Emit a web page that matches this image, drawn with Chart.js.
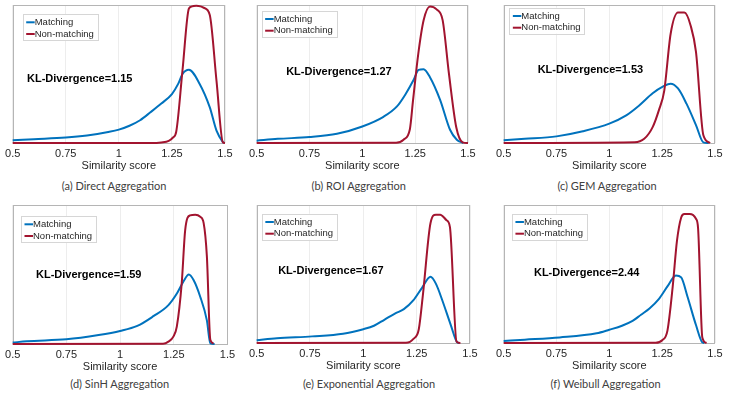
<!DOCTYPE html>
<html>
<head>
<meta charset="utf-8">
<script src="https://cdn.jsdelivr.net/npm/chart.js"></script>
<style>
  body { margin: 0; background: #fff; }
  #wrap { position: relative; width: 747px; height: 397px; overflow: hidden; }
  canvas { position: absolute; }
  .cap { position: absolute; font: 11px Lato, "Open Sans", sans-serif; color: #404040; white-space: nowrap; transform: translate(-50%, -50%); }
</style>
</head>
<body>
<div id="wrap"></div>
<script>
// values (x = similarity score, y = density, scaled so the plot top is 1)
var seriesNames = ['Matching', 'Non-matching'];
var xTicks = [0.5, 0.75, 1, 1.25, 1.5];
var captions = ['(a) Direct Aggregation', '(b) ROI Aggregation', '(c) GEM Aggregation',
                '(d) SinH Aggregation', '(e) Exponential Aggregation', '(f) Weibull Aggregation'];
var klValues = ['1.15', '1.27', '1.53', '1.59', '1.67', '2.44'];

var aMatching = [[0.5,0.02],[0.6,0.028],[0.75,0.04],[0.85,0.055],[0.95,0.08],[1.0,0.097],[1.05,0.125],[1.1,0.165],[1.15,0.224],[1.2,0.286],[1.25,0.355],[1.28,0.43],[1.3,0.5],[1.33,0.53],[1.38,0.43],[1.428,0.26],[1.46,0.09],[1.49,0.007],[1.495,0]];
var aNonMatching = [[0.5,0],[1.15,0],[1.2,0.004],[1.235,0.015],[1.255,0.04],[1.27,0.08],[1.3,0.53],[1.33,0.975],[1.345,0.99],[1.365,0.995],[1.385,0.99],[1.4,0.98],[1.428,0.93],[1.46,0.45],[1.49,0.005],[1.5,0]];

var bMatching = [[0.5,0.017],[0.6,0.03],[0.75,0.043],[0.88,0.067],[1.0,0.12],[1.1,0.19],[1.164,0.265],[1.203,0.35],[1.243,0.458],[1.266,0.53],[1.29,0.535],[1.32,0.477],[1.368,0.313],[1.415,0.096],[1.447,0.024],[1.478,0]];
var bNonMatching = [[0.5,0],[1.16,0.002],[1.195,0.024],[1.225,0.1],[1.24,0.31],[1.265,0.65],[1.29,0.89],[1.32,0.99],[1.35,0.97],[1.38,0.89],[1.41,0.5],[1.445,0.11],[1.475,0.005],[1.5,0]];

var cMatching = [[0.5,0.02],[0.6,0.03],[0.75,0.048],[0.875,0.085],[1.0,0.14],[1.08,0.2],[1.14,0.27],[1.205,0.36],[1.255,0.41],[1.29,0.43],[1.325,0.395],[1.365,0.285],[1.41,0.13],[1.445,0.005],[1.47,0]];
var cNonMatching = [[0.5,0],[1.12,0.005],[1.165,0.03],[1.205,0.115],[1.235,0.24],[1.26,0.38],[1.29,0.79],[1.325,0.945],[1.355,0.945],[1.385,0.85],[1.41,0.66],[1.445,0.056],[1.477,0]];

var dMatching = [[0.5,0.01],[0.565,0.02],[0.75,0.034],[0.9,0.065],[1.0,0.094],[1.08,0.13],[1.155,0.2],[1.225,0.28],[1.265,0.365],[1.295,0.45],[1.32,0.5],[1.342,0.46],[1.373,0.34],[1.404,0.17],[1.42,0.005],[1.44,0]];
var dNonMatching = [[0.5,0],[1.2,0.002],[1.225,0.017],[1.248,0.053],[1.264,0.125],[1.287,0.44],[1.303,0.82],[1.326,0.925],[1.35,0.93],[1.373,0.915],[1.389,0.87],[1.404,0.63],[1.42,0.03],[1.435,0.005]];

var eMatching = [[0.5,0.02],[0.595,0.034],[0.76,0.048],[0.905,0.067],[1.0,0.1],[1.05,0.125],[1.1,0.17],[1.15,0.215],[1.19,0.245],[1.235,0.31],[1.275,0.4],[1.315,0.48],[1.34,0.43],[1.37,0.31],[1.41,0.13],[1.44,0.005],[1.45,0]];
var eNonMatching = [[0.5,0],[1.2,0.002],[1.235,0.03],[1.26,0.1],[1.28,0.36],[1.315,0.87],[1.34,0.93],[1.36,0.93],[1.39,0.89],[1.406,0.84],[1.437,0.01],[1.455,0]];

var fMatching = [[0.5,0.015],[0.6,0.024],[0.765,0.04],[0.94,0.07],[1.0,0.096],[1.06,0.125],[1.11,0.16],[1.15,0.205],[1.19,0.25],[1.235,0.32],[1.275,0.41],[1.315,0.49],[1.34,0.475],[1.37,0.335],[1.41,0.13],[1.44,0.005],[1.45,0]];
var fNonMatching = [[0.5,0],[1.22,0.002],[1.25,0.02],[1.275,0.09],[1.3,0.41],[1.32,0.74],[1.34,0.91],[1.355,0.935],[1.38,0.935],[1.41,0.9],[1.42,0.83],[1.44,0.04],[1.46,0]];

var allSeries = [
  [aMatching, aNonMatching], [bMatching, bNonMatching], [cMatching, cNonMatching],
  [dMatching, dNonMatching], [eMatching, eNonMatching], [fMatching, fNonMatching]
];

// where each panel sits (pixels)
var panels = [
  { left: 0,   top: 0,   w: 245, padL: 12.7, padT: 5, padR: 20,   plotBottom: 143, legend: [10, 9],    kl: [14.3, 74], cap: [114, 185] },
  { left: 245, top: 0,   w: 247, padL: 10.5, padT: 5, padR: 24,   plotBottom: 143, legend: [5, 5.7],   kl: [29.5, 67], cap: [358.7, 185] },
  { left: 492, top: 0,   w: 255, padL: 11,   padT: 5, padR: 32,   plotBottom: 143, legend: [5.7, 2.7], kl: [34, 65],   cap: [607, 185] },
  { left: 0,   top: 200, w: 245, padL: 12.7, padT: 5, padR: 17.5, plotBottom: 344, legend: [8.3, 11],  kl: [23.3, 70], cap: [119.7, 383] },
  { left: 245, top: 200, w: 247, padL: 11.5, padT: 5, padR: 22,   plotBottom: 343, legend: [5.2, 8.7], kl: [21.5, 66], cap: [369, 383] },
  { left: 492, top: 200, w: 255, padL: 10.7, padT: 5, padR: 32,   plotBottom: 343, legend: [8.3, 8.7], kl: [30.3, 68], cap: [605.7, 383] }
];

var colors = ['#0072BD', '#A2142F'];
Chart.defaults.font.family = "'Liberation Sans', Arial, sans-serif";

// box, legend and KL text drawn inside the plot area
var panelDecor = {
  id: 'panelDecor',
  beforeDatasetsDraw: function (chart) {
    var ctx = chart.ctx, a = chart.chartArea;
    ctx.save();
    ctx.strokeStyle = '#b5b5b5';
    ctx.lineWidth = 1;
    ctx.strokeRect(Math.round(a.left) + 0.5, Math.round(a.top) + 0.5,
                   Math.round(a.right - a.left) - 1, Math.round(a.bottom - a.top));
    ctx.restore();
  },
  afterDatasetsDraw: function (chart, args, opts) {
    var ctx = chart.ctx, a = chart.chartArea;
    ctx.save();
    ctx.font = '9.5px "Liberation Sans", Arial, sans-serif';
    var tw = Math.max(ctx.measureText(seriesNames[0]).width, ctx.measureText(seriesNames[1]).width);
    var bx = a.left + opts.legend[0], by = a.top + opts.legend[1];
    var bw = 3.5 + 8.5 + tw + 3.5, bh = 26;
    ctx.fillStyle = '#fff';
    ctx.fillRect(bx, by, bw, bh);
    ctx.strokeStyle = '#d6d6d6';
    ctx.lineWidth = 1;
    ctx.strokeRect(Math.round(bx) + 0.5, Math.round(by) + 0.5, Math.round(bw), Math.round(bh));
    ctx.textBaseline = 'middle';
    for (var i = 0; i < 2; i++) {
      var ry = by + 8.3 + i * 11.7;
      ctx.strokeStyle = colors[i];
      ctx.lineWidth = 2;
      ctx.beginPath();
      ctx.moveTo(bx + 3.5, ry);
      ctx.lineTo(bx + 12, ry);
      ctx.stroke();
      ctx.fillStyle = '#262626';
      ctx.fillText(seriesNames[i], bx + 12, ry);
    }
    ctx.font = 'bold 11px "Liberation Sans", Arial, sans-serif';
    ctx.fillStyle = '#000';
    ctx.fillText('KL-Divergence=' + opts.kl, a.left + opts.klAt[0], a.top + opts.klAt[1]);
    ctx.restore();
  }
};

var wrap = document.getElementById('wrap');

panels.forEach(function (p, k) {
  var h = p.plotBottom - p.top + 30;
  var canvas = document.createElement('canvas');
  canvas.width = p.w;
  canvas.height = h;
  canvas.style.left = p.left + 'px';
  canvas.style.top = p.top + 'px';
  wrap.appendChild(canvas);

  var cap = document.createElement('div');
  cap.className = 'cap';
  cap.textContent = captions[k];
  cap.style.left = p.cap[0] + 'px';
  cap.style.top = p.cap[1] + 'px';
  wrap.appendChild(cap);

  new Chart(canvas.getContext('2d'), {
    type: 'line',
    data: {
      datasets: allSeries[k].map(function (s, i) {
        return {
          label: seriesNames[i],
          data: s.map(function (pt) { return { x: pt[0], y: pt[1] }; }),
          borderColor: colors[i],
          borderWidth: 2,
          pointRadius: 0,
          fill: false,
          cubicInterpolationMode: 'monotone',
          borderJoinStyle: 'round',
          order: 1 - i,
          clip: false
        };
      })
    },
    options: {
      responsive: false,
      animation: false,
      events: [],
      layout: { padding: { left: p.padL, top: p.padT, right: p.padR, bottom: 0 } },
      scales: {
        x: {
          type: 'linear',
          min: 0.5,
          max: 1.5,
          afterBuildTicks: function (scale) {
            scale.ticks = xTicks.map(function (v) { return { value: v }; });
          },
          afterFit: function (scale) { scale.height = 30; },
          grid: { color: '#ededed', drawTicks: false },
          border: { display: false },
          ticks: {
            padding: 4,
            color: '#262626',
            font: { size: 11 },
            maxRotation: 0,
            callback: function (v) { return String(v); }
          },
          title: {
            display: true,
            text: 'Similarity score',
            color: '#262626',
            font: { size: 11 },
            padding: { top: 0, bottom: 0 }
          }
        },
        y: { display: false, min: 0, max: 1 }
      },
      plugins: {
        legend: { display: false },
        tooltip: { enabled: false },
        panelDecor: { legend: p.legend, kl: klValues[k], klAt: p.kl }
      }
    },
    plugins: [panelDecor]
  });
});
</script>
</body>
</html>
